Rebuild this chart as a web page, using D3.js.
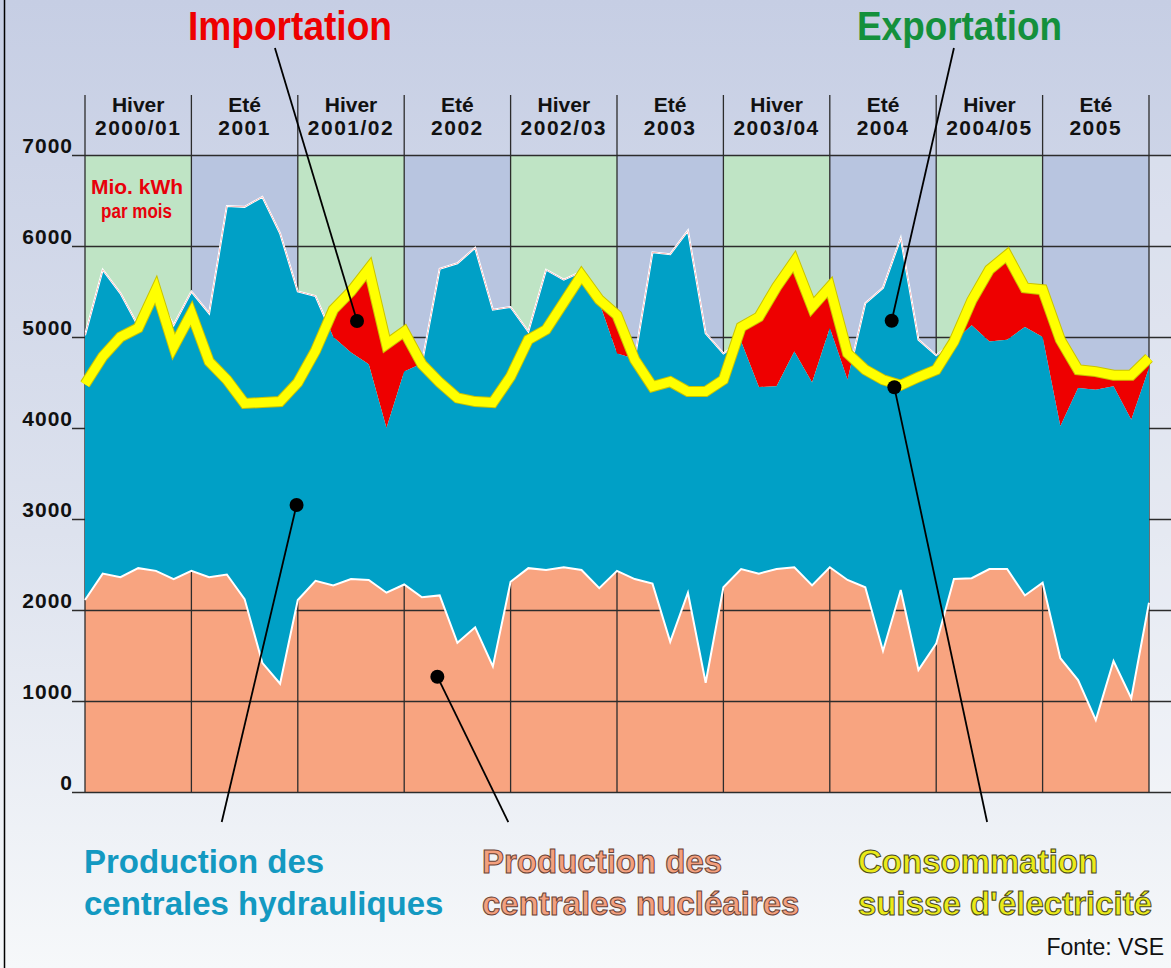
<!DOCTYPE html>
<html>
<head>
<meta charset="utf-8">
<script src="https://cdn.jsdelivr.net/npm/d3@7"></script>
<style>
  body { margin: 0; background: #fff; }
  svg { display: block; }
  text { font-family: "Liberation Sans", Arial, sans-serif; }
</style>
</head>
<body>
<svg width="1171" height="968"></svg>
<script>
// monthly values, Oct 2000 .. Oct 2005, Mio. kWh
let nuclear = [2110,2400,2360,2460,2430,2340,2430,2360,2390,2120,
               1420,1190,2110,2320,2270,2340,2330,2190,2280,2140,
               2160,1640,1810,1380,2310,2460,2440,2470,2440,2240,
               2430,2340,2290,1650,2190,1200,2250,2450,2400,2450,
               2470,2270,2470,2330,2250,1550,2220,1340,1630,2340,
               2350,2450,2450,2160,2300,1470,1230,790,1440,1030,2080];
// nuclear + hydro (top of the blue area)
let production = [5020,5740,5480,5120,5500,5130,5500,5260,6440,6430,
                  6540,6140,5500,5450,5000,4830,4700,4000,4620,4710,
                  5750,5810,5980,5300,5330,5060,5740,5630,5720,5380,
                  4820,4760,5930,5910,6170,5040,4820,4950,4450,4460,
                  4840,4500,5100,4530,5370,5540,6090,4970,4800,4950,
                  5130,4950,4970,5110,5000,4020,4440,4420,4460,4090,4660];
let consumption = [4480,4785,5000,5100,5520,4895,5260,4730,4530,4270,
                   4280,4290,4500,4850,5300,5500,5750,4920,5060,4700,
                   4500,4330,4290,4280,4565,4970,5080,5380,5680,5410,
                   5240,4750,4455,4510,4400,4400,4530,5110,5220,5550,
                   5830,5330,5550,4820,4640,4530,4470,4560,4640,4950,
                   5400,5740,5900,5540,5520,4970,4640,4620,4580,4580,4770];

let seasonNames = ["Hiver","Eté","Hiver","Eté","Hiver","Eté","Hiver","Eté","Hiver","Eté"];
let seasonYears = ["2000/01","2001","2001/02","2002","2002/03","2003","2003/04","2004","2004/05","2005"];
let yTicks = [0,1000,2000,3000,4000,5000,6000,7000];

// annotation dots (month index, value) and where their pointer lines end
let notes = [
  {i: 15.34, v: 5176, ei: 10.71, ev: 8176},  // Importation
  {i: 45.49, v: 5179, ei: 49.0,  ev: 8176},  // Exportation
  {i: 11.93, v: 3154, ei: 7.71,  ev: -330},  // hydro
  {i: 19.87, v: 1267, ei: 23.87, ev: -330},  // nucleaire
  {i: 45.64, v: 4447, ei: 50.87, ev: -330}   // consommation
];

const W = 1171, H = 968;
const narrow = "'Liberation Sans Narrow', 'DejaVu Sans Condensed', sans-serif";
const svg = d3.select("svg");
const defs = svg.append("defs");

const idx = d3.range(nuclear.length);
const x = d3.scaleLinear().domain([0, nuclear.length - 1]).range([85, 1149]);
const y = d3.scaleLinear().domain([0, 7000]).range([792, 155]);
const band = d3.scaleBand().domain(d3.range(seasonYears.length)).range([85, 1149]);

// page background
let bg = defs.append("linearGradient").attr("id", "bg")
  .attr("x1", 0).attr("y1", 0).attr("x2", 0).attr("y2", 1);
bg.append("stop").attr("offset", "0%").attr("stop-color", "#c6cee4");
bg.append("stop").attr("offset", "55%").attr("stop-color", "#dde2ee");
bg.append("stop").attr("offset", "100%").attr("stop-color", "#f6f8fa");
svg.append("rect").attr("width", W).attr("height", H).attr("fill", "url(#bg)");

svg.append("rect")
  .attr("x", 1149).attr("y", y(7000))
  .attr("width", W - 1149).attr("height", y(0) - y(7000))
  .attr("fill", "#fff").attr("opacity", 0.25);

// season bands
svg.selectAll("rect.band")
  .data(seasonNames)
  .join("rect")
  .attr("class", "band")
  .attr("x", (d, i) => band(i))
  .attr("y", y(7000))
  .attr("width", band.bandwidth())
  .attr("height", y(0) - y(7000))
  .attr("fill", d => d === "Hiver" ? "#bfe4c5" : "#b8c5e0");

// clip paths: region above consumption / above production
defs.append("clipPath").attr("id", "aboveCons")
  .append("path")
  .attr("d", d3.area().x(i => x(i)).y0(0).y1(i => y(consumption[i]))(idx));
defs.append("clipPath").attr("id", "aboveProd")
  .append("path")
  .attr("d", d3.area().x(i => x(i)).y0(0).y1(i => y(production[i]))(idx));

// nuclear
svg.append("path")
  .attr("d", d3.area().x(i => x(i)).y0(y(0)).y1(i => y(nuclear[i]))(idx))
  .attr("fill", "#f8a480");

// grid + y labels
let yAxis = d3.axisRight(y).tickValues(yTicks).tickSize(W - 72).tickFormat(d => d);
let gy = svg.append("g")
  .attr("transform", "translate(72,0)")
  .call(yAxis)
  .attr("font-family", null).attr("font-size", null);
gy.select(".domain").remove();
gy.selectAll(".tick line").attr("stroke", "#2c2c2c").attr("stroke-width", 1.3);
gy.selectAll(".tick text")
  .attr("x", 1).attr("dy", "-0.12em")
  .attr("text-anchor", "end")
  .attr("fill", "#111")
  .attr("font-size", 21)
  .attr("font-weight", "bold")
  .attr("letter-spacing", 1);

// season separators
let seps = band.domain().map(i => band(i)).concat([band.range()[1]]);
svg.selectAll("line.sep")
  .data(seps)
  .join("line")
  .attr("class", "sep")
  .attr("x1", d => d).attr("x2", d => d)
  .attr("y1", 95).attr("y2", y(0))
  .attr("stroke", "#2c2c2c").attr("stroke-width", 1.3);

// hydro on top of nuclear
svg.append("path")
  .attr("d", d3.area().x(i => x(i)).y0(i => y(nuclear[i])).y1(i => y(production[i]))(idx))
  .attr("fill", "#00a0c6");

svg.append("path")
  .attr("d", d3.line().x(i => x(i)).y(i => y(nuclear[i]))(idx))
  .attr("fill", "none").attr("stroke", "#fff").attr("stroke-width", 2);

svg.append("path")
  .attr("d", d3.line().x(i => x(i)).y(i => y(production[i]))(idx))
  .attr("clip-path", "url(#aboveCons)")
  .attr("fill", "none").attr("stroke", "#fff").attr("stroke-width", 2);

// import: consumption above production
svg.append("path")
  .attr("d", d3.area().x(i => x(i)).y0(i => y(production[i])).y1(i => y(consumption[i]))(idx))
  .attr("clip-path", "url(#aboveProd)")
  .attr("fill", "#ee0000");

// consumption line
let consLine = d3.line().x(i => x(i)).y(i => y(consumption[i]))(idx);
svg.append("path").attr("d", consLine)
  .attr("fill", "none").attr("stroke", "#c9c400").attr("stroke-width", 11)
  .attr("stroke-linejoin", "miter").attr("stroke-miterlimit", 3);
svg.append("path").attr("d", consLine)
  .attr("fill", "none").attr("stroke", "#ffff00").attr("stroke-width", 9)
  .attr("stroke-linejoin", "miter").attr("stroke-miterlimit", 3);

// season headers
let head = svg.selectAll("text.head")
  .data(seasonNames)
  .join("text")
  .attr("class", "head")
  .attr("text-anchor", "middle")
  .attr("font-size", 21)
  .attr("font-weight", "bold")
  .attr("fill", "#111");
head.append("tspan")
  .attr("x", (d, i) => band(i) + band.bandwidth() / 2)
  .attr("y", 112)
  .text(d => d);
head.append("tspan")
  .attr("x", (d, i) => band(i) + band.bandwidth() / 2)
  .attr("y", 135)
  .attr("letter-spacing", 1.5)
  .text((d, i) => seasonYears[i]);

// unit
let unit = svg.append("text")
  .attr("font-family", narrow)
  .attr("font-size", 20).attr("font-weight", "bold")
  .attr("fill", "#e8000b");
unit.append("tspan").attr("x", 91).attr("y", 194)
  .attr("textLength", 92).attr("lengthAdjust", "spacingAndGlyphs").text("Mio. kWh");
unit.append("tspan").attr("x", 101).attr("y", 218)
  .attr("textLength", 71).attr("lengthAdjust", "spacingAndGlyphs").text("par mois");

// annotation lines + dots
svg.selectAll("line.note")
  .data(notes)
  .join("line")
  .attr("class", "note")
  .attr("x1", d => x(d.i)).attr("y1", d => y(d.v))
  .attr("x2", d => x(d.ei)).attr("y2", d => y(d.ev))
  .attr("stroke", "#000").attr("stroke-width", 1.8);
svg.selectAll("circle.note")
  .data(notes)
  .join("circle")
  .attr("class", "note")
  .attr("cx", d => x(d.i)).attr("cy", d => y(d.v))
  .attr("r", 7).attr("fill", "#000");

// titles
svg.append("text")
  .attr("x", 188).attr("y", 40)
  .attr("font-family", narrow)
  .attr("font-size", 40).attr("font-weight", "bold")
  .attr("textLength", 204).attr("lengthAdjust", "spacingAndGlyphs")
  .attr("fill", "#ee0000")
  .text("Importation");
svg.append("text")
  .attr("x", 857).attr("y", 40)
  .attr("font-family", narrow)
  .attr("font-size", 40).attr("font-weight", "bold")
  .attr("textLength", 205).attr("lengthAdjust", "spacingAndGlyphs")
  .attr("fill", "#14903c")
  .text("Exportation");

// bottom legends
function legend(x0, lines, fill, stroke) {
  let t = svg.append("text")
    .attr("font-size", 33).attr("font-weight", "bold")
    .attr("fill", fill);
  if (stroke) t.attr("stroke", stroke).attr("stroke-width", 1);
  t.append("tspan").attr("x", x0).attr("y", 873).text(lines[0]);
  t.append("tspan").attr("x", x0).attr("y", 915).text(lines[1]);
}
legend(84, ["Production des", "centrales hydrauliques"], "#1399c1", null);
legend(482, ["Production des", "centrales nucléaires"], "#f4a07e", "#6a4236");
legend(858, ["Consommation", "suisse d'électricité"], "#eaea1a", "#4a4a20");

svg.append("text")
  .attr("x", 1164).attr("y", 955)
  .attr("text-anchor", "end")
  .attr("font-family", narrow)
  .attr("font-size", 23)
  .attr("fill", "#111")
  .text("Fonte: VSE");

// frame on the left
svg.append("line")
  .attr("x1", 4.5).attr("x2", 4.5).attr("y1", 0).attr("y2", H)
  .attr("stroke", "#000").attr("stroke-width", 1.5);
</script>
</body>
</html>
